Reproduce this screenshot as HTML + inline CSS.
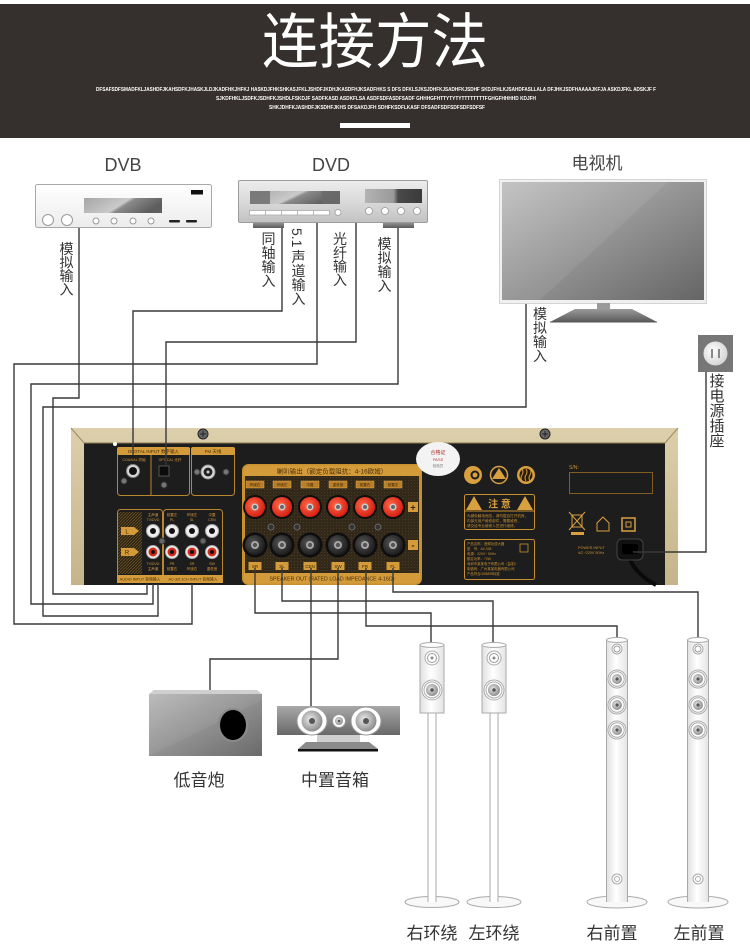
<!DOCTYPE html>
<html><head><meta charset="utf-8">
<style>
html,body{margin:0;padding:0;background:#fff;}
svg{display:block;}
.cn{font-family:"Liberation Sans","Noto Sans CJK SC",sans-serif;}
.lat{font-family:"Liberation Sans",sans-serif;}
</style></head>
<body>
<svg width="750" height="952" viewBox="0 0 750 952" xmlns="http://www.w3.org/2000/svg">
<defs>
<linearGradient id="dvbg" x1="0" y1="0" x2="0" y2="1"><stop offset="0" stop-color="#ffffff"/><stop offset="1" stop-color="#ececec"/></linearGradient>
<linearGradient id="dvdg" x1="0" y1="0" x2="0" y2="1"><stop offset="0" stop-color="#ededed"/><stop offset="0.5" stop-color="#dadada"/><stop offset="1" stop-color="#c2c2c2"/></linearGradient>
<linearGradient id="disp" x1="0" y1="0" x2="1" y2="0.3"><stop offset="0" stop-color="#a5a5a5"/><stop offset="0.55" stop-color="#cacaca"/><stop offset="0.62" stop-color="#8a8a8a"/><stop offset="1" stop-color="#5e5e5e"/></linearGradient>
<linearGradient id="disp2" x1="0" y1="0" x2="1" y2="0"><stop offset="0" stop-color="#b3b3b3"/><stop offset="0.5" stop-color="#9a9a9a"/><stop offset="0.58" stop-color="#4a4a4a"/><stop offset="1" stop-color="#3a3a3a"/></linearGradient>
<linearGradient id="tvg" x1="0" y1="0" x2="1" y2="1"><stop offset="0" stop-color="#c0c0c0"/><stop offset="1" stop-color="#656565"/></linearGradient>
<linearGradient id="subg" x1="0" y1="0" x2="1" y2="1"><stop offset="0" stop-color="#b8b8b8"/><stop offset="1" stop-color="#6a6a6a"/></linearGradient>
<linearGradient id="ceng" x1="0" y1="0" x2="0" y2="1"><stop offset="0" stop-color="#a8a8a8"/><stop offset="1" stop-color="#686868"/></linearGradient>
<linearGradient id="towg" x1="0" y1="0" x2="1" y2="0"><stop offset="0" stop-color="#e0e0e0"/><stop offset="0.45" stop-color="#ffffff"/><stop offset="1" stop-color="#e4e4e4"/></linearGradient>
<linearGradient id="grayv" x1="0" y1="0" x2="0" y2="1"><stop offset="0" stop-color="#9a9a9a"/><stop offset="1" stop-color="#5a5a5a"/></linearGradient>
<radialGradient id="cone" cx="0.42" cy="0.42" r="0.6"><stop offset="0" stop-color="#ececec"/><stop offset="1" stop-color="#8a8a8a"/></radialGradient>
<radialGradient id="redg" cx="0.4" cy="0.4" r="0.7"><stop offset="0" stop-color="#ff6a4a"/><stop offset="1" stop-color="#d0150a"/></radialGradient>
<radialGradient id="blkg" cx="0.4" cy="0.4" r="0.7"><stop offset="0" stop-color="#555"/><stop offset="1" stop-color="#151515"/></radialGradient>
<radialGradient id="sock" cx="0.4" cy="0.4" r="0.7"><stop offset="0" stop-color="#ffffff"/><stop offset="1" stop-color="#cfcfcf"/></radialGradient>
<pattern id="hatch" width="3" height="3" patternUnits="userSpaceOnUse"><rect width="3" height="3" fill="#2c2314"/><path d="M0,3 L3,0" stroke="#6a5226" stroke-width="0.8"/></pattern>
<pattern id="mesh" width="3" height="3" patternUnits="userSpaceOnUse"><rect width="1" height="1" fill="#4a3a1e"/></pattern>
<linearGradient id="frame" x1="0" y1="0" x2="0" y2="1"><stop offset="0" stop-color="#dccfab"/><stop offset="1" stop-color="#c6b48a"/></linearGradient>
</defs>

<!-- HEADER -->
<rect x="0" y="4" width="750" height="134" fill="#35302d"/>
<text x="375" y="63" text-anchor="middle" font-size="60" fill="#ffffff" class="cn" textLength="226" lengthAdjust="spacingAndGlyphs">连接方法</text>
<g class="lat" font-size="5" font-weight="bold" fill="#ffffff">
<text x="96" y="91" textLength="560" lengthAdjust="spacingAndGlyphs">DFSAFSDFSMADFKLJASHDFJKAHSDFKJHASKJLDJKADFHKJHFKJ HASKDJFHKSHKASJFKLJSHDFJKDHJKASDFHJKSADFHKS S DFS DFKLSJKSJDHFKJSADHFKJSDHF SKDJFHLKJSAHDFASLLALA DFJHKJSDFHAAAAJKFJA ASKDJFKL ADSKJF F</text>
<text x="216" y="100" textLength="320" lengthAdjust="spacingAndGlyphs">SJKDFHKLJSDFKJSDHFKJSHDLFSKDJF SADFKASD ASDKFLSA ASDFSDFASDFSADF GHHHGFHTTYTYTYTTTTTTTTFGHGFHHHHD KDJFH</text>
<text x="269" y="109" textLength="216" lengthAdjust="spacingAndGlyphs">SHKJDHFKJASHDFJKSDHFJKHS DFSAKDJFH SDHFKSDFLKASF DFSADFSDFSDFSDFSDFSF</text>
</g>
<rect x="340" y="123" width="70" height="5" fill="#ffffff"/>

<!-- DEVICE LABELS -->
<text x="123" y="171" text-anchor="middle" font-size="18" fill="#444" class="lat">DVB</text>
<text x="331" y="171" text-anchor="middle" font-size="18" fill="#444" class="lat">DVD</text>
<text x="597" y="169" text-anchor="middle" font-size="17" fill="#444" class="cn">电视机</text>

<!-- DVB box -->
<rect x="35.5" y="184.5" width="176" height="43" rx="2" fill="url(#dvbg)" stroke="#a8a8a8"/>
<rect x="84" y="198" width="78" height="15" fill="url(#disp)"/>
<circle cx="48" cy="220" r="5.5" fill="#fff" stroke="#999"/>
<circle cx="67" cy="220" r="5.5" fill="#fff" stroke="#999"/>
<circle cx="96" cy="221" r="3" fill="#fff" stroke="#999"/>
<circle cx="114" cy="221" r="3" fill="#fff" stroke="#999"/>
<circle cx="133" cy="221" r="3" fill="#fff" stroke="#999"/>
<circle cx="151" cy="221" r="3" fill="#fff" stroke="#999"/>
<rect x="169" y="220" width="11" height="2.5" rx="1" fill="#222"/>
<rect x="186" y="220" width="11" height="2.5" rx="1" fill="#222"/>
<rect x="191" y="190" width="12" height="4.5" fill="#111"/>

<!-- DVD box -->
<rect x="253" y="222" width="31" height="6" fill="url(#grayv)"/>
<rect x="383" y="222" width="31" height="6" fill="url(#grayv)"/>
<rect x="238.5" y="180.5" width="189" height="42" rx="1.5" fill="url(#dvdg)" stroke="#9c9c9c"/>
<rect x="250" y="191" width="90" height="13" fill="url(#disp)"/>
<rect x="250" y="191" width="20" height="13" fill="#707070" opacity="0.85"/>
<rect x="322" y="191" width="18" height="13" fill="#6a6a6a" opacity="0.85"/>
<rect x="249.5" y="210.5" width="80" height="4.5" fill="#fff" stroke="#aaa" stroke-width="0.8"/>
<path d="M265.5,210.5V215M281.5,210.5V215M297.5,210.5V215M313.5,210.5V215" stroke="#aaa" stroke-width="0.8"/>
<circle cx="338" cy="212.5" r="3" fill="#fff" stroke="#aaa"/>
<rect x="365" y="189" width="57" height="14" fill="url(#disp2)"/>
<circle cx="369" cy="211" r="3.5" fill="#fff" stroke="#999" stroke-width="0.8"/>
<circle cx="385" cy="211" r="3.5" fill="#fff" stroke="#999" stroke-width="0.8"/>
<circle cx="401" cy="211" r="3.5" fill="#fff" stroke="#999" stroke-width="0.8"/>
<circle cx="417" cy="211" r="3.5" fill="#fff" stroke="#999" stroke-width="0.8"/>

<!-- TV -->
<rect x="499.5" y="179.5" width="207" height="124" fill="#f0f0f0" stroke="#d4d4d4"/>
<rect x="502" y="182" width="202" height="118" fill="url(#tvg)"/>
<polygon points="502,182 668,182 540,300 502,300" fill="#ffffff" opacity="0.07"/>
<rect x="597" y="303" width="13" height="8" fill="#9a9a9a"/>
<polygon points="575,309 632,309 657,322 550,322" fill="url(#grayv)"/>
<line x1="550" y1="322" x2="657" y2="322" stroke="#555" stroke-width="1"/>

<!-- Socket -->
<rect x="698" y="335" width="35" height="37" fill="#777"/>
<circle cx="715.5" cy="353.5" r="12" fill="url(#sock)"/>
<rect x="711" y="349" width="2" height="9" fill="#888"/>
<rect x="718" y="349" width="2" height="9" fill="#888"/>

<!-- Vertical labels -->
<g class="cn" font-size="14" fill="#333" text-anchor="middle">
<text x="66.5" y="254">模</text><text x="66.5" y="267.5">拟</text><text x="66.5" y="281">输</text><text x="66.5" y="294.5">入</text>
<text x="268.5" y="244">同</text><text x="268.5" y="258">轴</text><text x="268.5" y="272">输</text><text x="268.5" y="286">入</text>
<text x="298.5" y="262">声</text><text x="298.5" y="276">道</text><text x="298.5" y="290">输</text><text x="298.5" y="304">入</text>
<text x="340" y="244">光</text><text x="340" y="258">纤</text><text x="340" y="271.5">输</text><text x="340" y="285">入</text>
<text x="384.5" y="249">模</text><text x="384.5" y="263">拟</text><text x="384.5" y="277">输</text><text x="384.5" y="291">入</text>
<text x="540" y="319">模</text><text x="540" y="333">拟</text><text x="540" y="347">输</text><text x="540" y="361">入</text>
</g>
<text transform="translate(292,228) rotate(90)" font-size="14" fill="#333" class="lat">5.1</text>
<g class="cn" font-size="15" fill="#333" text-anchor="middle">
<text x="717" y="386">接</text><text x="717" y="401">电</text><text x="717" y="416">源</text><text x="717" y="431">插</text><text x="717" y="446">座</text>
</g>

<!-- AMPLIFIER PANEL -->
<rect x="71" y="428" width="607" height="157" fill="url(#frame)"/>
<rect x="84" y="443" width="581" height="142" fill="#1d1d1d"/>
<line x1="71" y1="428" x2="84" y2="443" stroke="#9c8a60" stroke-width="1"/>
<line x1="678" y1="428" x2="665" y2="443" stroke="#9c8a60" stroke-width="1"/>
<line x1="84" y1="443" x2="665" y2="443" stroke="#8c7a50" stroke-width="1"/>
<g>
<circle cx="203" cy="434" r="5" fill="#666" stroke="#222"/><path d="M200,434h6M203,431v6" stroke="#222" stroke-width="1"/>
<circle cx="545" cy="434" r="5" fill="#666" stroke="#222"/><path d="M542,434h6M545,431v6" stroke="#222" stroke-width="1"/>
</g>
<circle cx="115" cy="444" r="2" fill="#fff"/>

<!-- Digital input -->
<rect x="117.5" y="447.5" width="72" height="48" rx="3" fill="none" stroke="#b8862f"/>
<rect x="117" y="447" width="73" height="8" rx="2" fill="#d49b3a"/>
<text x="153.5" y="453" text-anchor="middle" font-size="4.5" fill="#4a2e08" class="cn">DIGITAL INPUT 数字输入</text>
<line x1="151" y1="455" x2="151" y2="496" stroke="#b8862f"/>
<text x="134" y="461" text-anchor="middle" font-size="3.5" fill="#d49b3a" class="cn">COAXIAL 同轴</text>
<text x="170" y="461" text-anchor="middle" font-size="3.5" fill="#d49b3a" class="cn">OPTICAL 光纤</text>
<circle cx="133" cy="471" r="6.5" fill="#d8d8d8" stroke="#888"/><circle cx="133" cy="471" r="4" fill="#111"/>
<circle cx="124" cy="481" r="3" fill="#777" stroke="#333"/>
<rect x="159" y="466" width="10" height="10" fill="#0c0c0c" stroke="#666" stroke-width="0.8"/>
<circle cx="164" cy="485" r="3" fill="#777" stroke="#333"/>

<!-- FM -->
<rect x="191.5" y="447.5" width="43" height="48" rx="3" fill="none" stroke="#b8862f"/>
<rect x="191" y="447" width="44" height="8" rx="2" fill="#d49b3a"/>
<text x="213" y="453" text-anchor="middle" font-size="4.5" fill="#4a2e08" class="cn">FM 天线</text>
<circle cx="208" cy="472" r="7" fill="#ddd" stroke="#888"/><circle cx="208" cy="472" r="4.5" fill="#222"/><circle cx="208" cy="472" r="1.5" fill="#ccc"/>
<circle cx="197" cy="472" r="3" fill="#777" stroke="#333"/>
<circle cx="226" cy="472" r="3" fill="#777" stroke="#333"/>

<!-- Audio input -->
<rect x="117.5" y="509.5" width="45" height="73" rx="3" fill="none" stroke="#b8862f"/>
<rect x="118" y="512" width="24" height="62" fill="url(#hatch)"/>
<polygon points="121,527 134,527 139,531 134,535 121,535" fill="#d49b3a"/>
<text x="127" y="533.5" text-anchor="middle" font-size="6" fill="#4a2e08" class="lat">L</text>
<polygon points="121,548 134,548 139,552 134,556 121,556" fill="#d49b3a"/>
<text x="127" y="554.5" text-anchor="middle" font-size="6" fill="#4a2e08" class="lat">R</text>
<rect x="163.5" y="509.5" width="59" height="73" rx="3" fill="none" stroke="#b8862f"/>
<g font-size="3.5" fill="#d49b3a" text-anchor="middle" class="cn">
<text x="153" y="516">主声道</text><text x="153" y="521">TV/DVD</text>
<text x="172" y="516">前置左</text><text x="172" y="521">PL</text>
<text x="192" y="516">环绕左</text><text x="192" y="521">SL</text>
<text x="212" y="516">中置</text><text x="212" y="521">CEN</text>
<text x="153" y="565">TV/DVD</text><text x="153" y="570">主声道</text>
<text x="172" y="565">PR</text><text x="172" y="570">前置右</text>
<text x="192" y="565">SR</text><text x="192" y="570">环绕右</text>
<text x="212" y="565">SW</text><text x="212" y="570">重低音</text>
</g>
<g>
<circle cx="153" cy="531" r="6.5" fill="#eee" stroke="#aaa"/><circle cx="153" cy="531" r="3" fill="#111"/>
<circle cx="172" cy="531" r="6.5" fill="#eee" stroke="#aaa"/><circle cx="172" cy="531" r="3" fill="#111"/>
<circle cx="192" cy="531" r="6.5" fill="#eee" stroke="#aaa"/><circle cx="192" cy="531" r="3" fill="#111"/>
<circle cx="212" cy="531" r="6.5" fill="#eee" stroke="#aaa"/><circle cx="212" cy="531" r="3" fill="#111"/>
<circle cx="153" cy="552" r="6.5" fill="#eee" stroke="#aaa"/><circle cx="153" cy="552" r="4.5" fill="#d32a1a"/><circle cx="153" cy="552" r="2" fill="#111"/>
<circle cx="172" cy="552" r="6.5" fill="#eee" stroke="#aaa"/><circle cx="172" cy="552" r="4.5" fill="#d32a1a"/><circle cx="172" cy="552" r="2" fill="#111"/>
<circle cx="192" cy="552" r="6.5" fill="#eee" stroke="#aaa"/><circle cx="192" cy="552" r="4.5" fill="#d32a1a"/><circle cx="192" cy="552" r="2" fill="#111"/>
<circle cx="212" cy="552" r="6.5" fill="#eee" stroke="#aaa"/><circle cx="212" cy="552" r="4.5" fill="#d32a1a"/><circle cx="212" cy="552" r="2" fill="#111"/>
<circle cx="162" cy="541" r="3" fill="#666" stroke="#333"/>
<circle cx="203" cy="541" r="3" fill="#666" stroke="#333"/>
</g>
<rect x="117" y="575" width="46" height="8" fill="#d49b3a"/>
<text x="140" y="580.5" text-anchor="middle" font-size="3.8" fill="#4a2e08" class="cn">AUDIO INPUT 音频输入</text>
<rect x="163" y="575" width="60" height="8" fill="#d49b3a"/>
<text x="193" y="580.5" text-anchor="middle" font-size="3.8" fill="#4a2e08" class="cn">AC-3/5.1CH INPUT 音频输入</text>

<!-- Speaker out -->
<rect x="243.5" y="465.5" width="177" height="118" rx="5" fill="#33291a"/>
<rect x="246" y="476" width="172" height="97" fill="url(#mesh)"/>
<rect x="243.5" y="465.5" width="177" height="118" rx="5" fill="none" stroke="#c8902f" stroke-width="3"/>
<path d="M243.5,476 V470.5 a5,5 0 0 1 5,-5 H415.5 a5,5 0 0 1 5,5 V476 Z" fill="#d49b3a"/>
<text x="332" y="473.5" text-anchor="middle" font-size="6.5" fill="#4a2e08" class="cn">喇叭输出（额定负载阻抗：4-16欧姆）</text>
<path d="M243.5,573 H420.5 V578.5 a5,5 0 0 1 -5,5 H248.5 a5,5 0 0 1 -5,-5 Z" fill="#d49b3a"/>
<text x="332" y="580.5" text-anchor="middle" font-size="5.3" fill="#4a2e08" class="lat">SPEAKER OUT (RATED LOAD IMPEDANCE 4-16Ω)</text>
<g fill="#b87e28" stroke="#e0a850" stroke-width="0.5">
<rect x="246" y="481" width="18" height="7"/><rect x="273" y="481" width="18" height="7"/><rect x="301" y="481" width="18" height="7"/>
<rect x="329" y="481" width="18" height="7"/><rect x="356" y="481" width="18" height="7"/><rect x="384" y="481" width="18" height="7"/>
</g>
<g font-size="3.5" fill="#3a2406" text-anchor="middle" class="cn">
<text x="255" y="486">环绕右</text><text x="282" y="486">环绕左</text><text x="310" y="486">中置</text>
<text x="338" y="486">重低音</text><text x="365" y="486">前置右</text><text x="393" y="486">前置左</text>
</g>
<g>
<circle cx="255" cy="507" r="12" fill="#0e0e0e"/><circle cx="255" cy="507" r="10" fill="url(#redg)"/><circle cx="255" cy="507" r="3.5" fill="#ccc"/><circle cx="255" cy="507" r="2" fill="#666"/>
<circle cx="282" cy="507" r="12" fill="#0e0e0e"/><circle cx="282" cy="507" r="10" fill="url(#redg)"/><circle cx="282" cy="507" r="3.5" fill="#ccc"/><circle cx="282" cy="507" r="2" fill="#666"/>
<circle cx="310" cy="507" r="12" fill="#0e0e0e"/><circle cx="310" cy="507" r="10" fill="url(#redg)"/><circle cx="310" cy="507" r="3.5" fill="#ccc"/><circle cx="310" cy="507" r="2" fill="#666"/>
<circle cx="338" cy="507" r="12" fill="#0e0e0e"/><circle cx="338" cy="507" r="10" fill="url(#redg)"/><circle cx="338" cy="507" r="3.5" fill="#ccc"/><circle cx="338" cy="507" r="2" fill="#666"/>
<circle cx="365" cy="507" r="12" fill="#0e0e0e"/><circle cx="365" cy="507" r="10" fill="url(#redg)"/><circle cx="365" cy="507" r="3.5" fill="#ccc"/><circle cx="365" cy="507" r="2" fill="#666"/>
<circle cx="393" cy="507" r="12" fill="#0e0e0e"/><circle cx="393" cy="507" r="10" fill="url(#redg)"/><circle cx="393" cy="507" r="3.5" fill="#ccc"/><circle cx="393" cy="507" r="2" fill="#666"/>
</g>
<g fill="#333" stroke="#777" stroke-width="0.8">
<circle cx="271" cy="527" r="3"/><circle cx="297" cy="527" r="3"/><circle cx="352" cy="527" r="3"/><circle cx="378" cy="527" r="3"/>
</g>
<g>
<circle cx="255" cy="545" r="12.5" fill="#0e0e0e"/><circle cx="255" cy="545" r="10" fill="url(#blkg)"/><circle cx="255" cy="545" r="4" fill="#aaa"/><circle cx="255" cy="545" r="2.2" fill="#555"/>
<circle cx="282" cy="545" r="12.5" fill="#0e0e0e"/><circle cx="282" cy="545" r="10" fill="url(#blkg)"/><circle cx="282" cy="545" r="4" fill="#aaa"/><circle cx="282" cy="545" r="2.2" fill="#555"/>
<circle cx="310" cy="545" r="12.5" fill="#0e0e0e"/><circle cx="310" cy="545" r="10" fill="url(#blkg)"/><circle cx="310" cy="545" r="4" fill="#aaa"/><circle cx="310" cy="545" r="2.2" fill="#555"/>
<circle cx="338" cy="545" r="12.5" fill="#0e0e0e"/><circle cx="338" cy="545" r="10" fill="url(#blkg)"/><circle cx="338" cy="545" r="4" fill="#aaa"/><circle cx="338" cy="545" r="2.2" fill="#555"/>
<circle cx="365" cy="545" r="12.5" fill="#0e0e0e"/><circle cx="365" cy="545" r="10" fill="url(#blkg)"/><circle cx="365" cy="545" r="4" fill="#aaa"/><circle cx="365" cy="545" r="2.2" fill="#555"/>
<circle cx="393" cy="545" r="12.5" fill="#0e0e0e"/><circle cx="393" cy="545" r="10" fill="url(#blkg)"/><circle cx="393" cy="545" r="4" fill="#aaa"/><circle cx="393" cy="545" r="2.2" fill="#555"/>
</g>
<g fill="#d49b3a">
<rect x="248.5" y="562" width="13" height="8"/><rect x="275.5" y="562" width="13" height="8"/><rect x="303.5" y="562" width="13" height="8"/>
<rect x="331.5" y="562" width="13" height="8"/><rect x="358.5" y="562" width="13" height="8"/><rect x="386.5" y="562" width="13" height="8"/>
<rect x="408" y="502" width="10" height="10"/><rect x="408" y="540" width="10" height="10"/>
</g>
<g font-size="4.5" fill="#3a2406" text-anchor="middle" class="lat">
<text x="255" y="567.8">SR</text><text x="282" y="567.8">SL</text><text x="310" y="567.8">CEN</text>
<text x="338" y="567.8">SW</text><text x="365" y="567.8">FR</text><text x="393" y="567.8">FL</text>
<text x="413" y="510.5" font-size="9" font-weight="bold">+</text><text x="413" y="548.5" font-size="9" font-weight="bold">-</text>
</g>

<!-- PASS sticker -->
<ellipse cx="438" cy="459" rx="22" ry="17" fill="#f3f3f3"/>
<text x="438" y="454" text-anchor="middle" font-size="5" fill="#b03030" class="cn">合格证</text>
<text x="438" y="461" text-anchor="middle" font-size="4" fill="#c03030" class="lat">PASS</text>
<text x="438" y="467" text-anchor="middle" font-size="3.5" fill="#777" class="cn">检验员</text>

<!-- Right side icons -->
<circle cx="473" cy="475" r="9" fill="#d9a040"/><circle cx="475" cy="475" r="4.5" fill="#1d1d1d"/><circle cx="475" cy="475" r="2.5" fill="#d9a040"/>
<circle cx="499" cy="475" r="8.5" fill="#1d1d1d" stroke="#d9a040" stroke-width="1.5"/><path d="M492,479 L499,468 L506,479 Z" fill="#d9a040"/>
<circle cx="526" cy="475" r="9" fill="#d9a040"/><circle cx="526" cy="475" r="6.5" fill="#2a1d08"/><path d="M522,469 q2,3 0,6 q-2,3 0,6 M526,469 q2,3 0,6 q-2,3 0,6 M530,469 q2,3 0,6 q-2,3 0,6" stroke="#d9a040" stroke-width="1" fill="none"/>

<!-- 注意 box -->
<rect x="464.5" y="494.5" width="70" height="35" rx="2" fill="none" stroke="#c8902f"/>
<line x1="464.5" y1="511" x2="534.5" y2="511" stroke="#c8902f"/>
<polygon points="466,510 474,496 482,510" fill="#d9a040"/>
<polygon points="517,510 525,496 533,510" fill="#d9a040"/>
<text x="499.5" y="507.5" text-anchor="middle" font-size="10" font-weight="bold" fill="#d9a040" class="cn">注 意</text>
<g font-size="3.6" fill="#c8902f" class="cn">
<text x="467" y="517">为避免触电危险，请勿擅自打开机壳，</text>
<text x="467" y="522">内部无用户维修部件，需要维修，</text>
<text x="467" y="527">请交给专业维修人员进行维修。</text>
</g>
<rect x="464.5" y="539.5" width="70" height="40" rx="2" fill="none" stroke="#c8902f"/>
<rect x="520" y="544" width="8" height="8" fill="none" stroke="#c8902f" stroke-width="0.8"/>
<g font-size="3.4" fill="#c8902f" class="cn">
<text x="467" y="545">产品名称：音频功放大器</text>
<text x="467" y="550">型　号：AV-338</text>
<text x="467" y="555">电源：220V~ 50Hz</text>
<text x="467" y="560">额定功率：70W</text>
<text x="467" y="565">深圳市某某电子有限公司（监制）</text>
<text x="467" y="570">制造商：广州某某电器有限公司</text>
<text x="467" y="575">产品符合GB8898标准</text>
</g>

<!-- S/N -->
<text x="569" y="469" font-size="5" fill="#c8902f" class="lat">S/N:</text>
<rect x="569.5" y="472.5" width="83" height="21" fill="none" stroke="#9c6e22" stroke-width="0.8"/>
<rect x="572" y="515" width="10" height="12" fill="none" stroke="#d9a040" stroke-width="1"/>
<path d="M569,512 L585,530 M585,512 L569,530" stroke="#d9a040" stroke-width="1"/>
<rect x="571" y="532" width="13" height="3" fill="#d9a040"/>
<path d="M597,531 V523 L603,517 L609,523 V531 Z" fill="none" stroke="#d9a040" stroke-width="1"/>
<rect x="622" y="518" width="13" height="13" fill="none" stroke="#d9a040" stroke-width="1.5"/>
<rect x="626" y="522" width="5" height="5" fill="none" stroke="#d9a040" stroke-width="1"/>
<text x="578" y="549" font-size="3.8" fill="#c8902f" class="lat">POWER INPUT</text>
<text x="578" y="554" font-size="3.8" fill="#c8902f" class="lat">AC~220V 50Hz</text>

<!-- Power plug -->
<path d="M628,553 Q632,572 656,585" stroke="#0a0a0a" stroke-width="4" fill="none"/>
<rect x="617" y="539" width="26" height="21" rx="5" fill="#111" stroke="#444"/>
<rect x="622" y="544" width="16" height="10" rx="2" fill="#000"/>

<!-- WIRES -->
<g fill="none" stroke="#383838" stroke-width="1.4">
<polyline points="79,228 79,398 53,398 53,594 147,594 147,584"/>
<polyline points="282,228 282,311 133,311 133,455"/>
<polyline points="317,223 317,364 14,364 14,624 192,624 192,584"/>
<polyline points="356,223 356,342 166,342 166,466"/>
<polyline points="398,228 398,384 31,384 31,604 153,604 153,584"/>
<polyline points="526,304 526,407 43,407 43,616 158,616 158,584"/>
<polyline points="706,372 706,552 633,552"/>
<polyline points="255,568 255,613 431,613 431,643"/>
<polyline points="282,568 282,601 493,601 493,643"/>
<polyline points="311,568 311,706"/>
<polyline points="338,568 338,659 210,659 210,690"/>
<polyline points="366,568 366,626 617,626 617,637"/>
<polyline points="393,568 393,592 698,592 698,637"/>
</g>

<!-- SUBWOOFER -->
<polygon points="149,694 154,690 257,690 262,694" fill="#cfcfcf"/>
<rect x="149" y="694" width="113" height="62" fill="url(#subg)"/>
<polygon points="149,694 262,694 262,700 149,756" fill="#ffffff" opacity="0.06"/>
<ellipse cx="233" cy="725" rx="15.5" ry="17" fill="#8a8a8a"/>
<ellipse cx="233" cy="725" rx="13" ry="15" fill="#000"/>

<!-- CENTER -->
<rect x="277" y="706" width="123" height="29" fill="url(#ceng)"/>
<ellipse cx="312" cy="721" rx="15" ry="14" fill="#fff" stroke="#999"/>
<ellipse cx="312" cy="721" rx="10.5" ry="10.5" fill="url(#cone)"/>
<circle cx="312" cy="721" r="3" fill="#555"/>
<circle cx="339" cy="721" r="6.5" fill="#fff" stroke="#999"/>
<circle cx="339" cy="721" r="4" fill="url(#cone)"/>
<circle cx="339" cy="721" r="1.3" fill="#555"/>
<ellipse cx="366" cy="721" rx="15" ry="14" fill="#fff" stroke="#999"/>
<ellipse cx="366" cy="721" rx="10.5" ry="10.5" fill="url(#cone)"/>
<circle cx="366" cy="721" r="3" fill="#555"/>
<rect x="317" y="735" width="43" height="7" fill="#cfcfcf"/>
<polygon points="306,742 369,742 378,749 298,749" fill="#8a8a8a"/>
<rect x="298" y="749" width="80" height="2.5" fill="#111"/>

<!-- SURROUND TOWERS -->
<g stroke="#aaa" stroke-width="1">
<ellipse cx="432" cy="902" rx="27" ry="5.5" fill="#f8f8f8"/>
<rect x="428" y="712" width="8" height="190" fill="#fff" stroke="none"/>
<path d="M428,712V902M436,712V902" fill="none"/>
<rect x="420" y="645" width="24" height="68" fill="url(#towg)"/>
<ellipse cx="432" cy="645" rx="12" ry="2.5" fill="#fff"/>
<circle cx="432" cy="658" r="7" fill="#fff"/><circle cx="432" cy="658" r="4.5" fill="none" stroke="#999"/><circle cx="432" cy="658" r="1.5" fill="#888" stroke="none"/>
<circle cx="432" cy="690" r="10" fill="#fff"/><circle cx="432" cy="690" r="8" fill="none"/><circle cx="432" cy="690" r="6" fill="url(#cone)" stroke="none"/><circle cx="432" cy="690" r="1.8" fill="#555" stroke="none"/>

<ellipse cx="494" cy="902" rx="27" ry="5.5" fill="#f8f8f8"/>
<rect x="490" y="712" width="8" height="190" fill="#fff" stroke="none"/>
<path d="M490,712V902M498,712V902" fill="none"/>
<rect x="482" y="645" width="24" height="68" fill="url(#towg)"/>
<ellipse cx="494" cy="645" rx="12" ry="2.5" fill="#fff"/>
<circle cx="494" cy="658" r="7" fill="#fff"/><circle cx="494" cy="658" r="4.5" fill="none" stroke="#999"/><circle cx="494" cy="658" r="1.5" fill="#888" stroke="none"/>
<circle cx="494" cy="690" r="10" fill="#fff"/><circle cx="494" cy="690" r="8" fill="none"/><circle cx="494" cy="690" r="6" fill="url(#cone)" stroke="none"/><circle cx="494" cy="690" r="1.8" fill="#555" stroke="none"/>
</g>

<!-- FRONT TOWERS -->
<g stroke="#aaa" stroke-width="1">
<ellipse cx="617" cy="902" rx="30" ry="6" fill="#f8f8f8"/>
<rect x="606.5" y="640" width="21" height="262" fill="url(#towg)" stroke="none"/>
<path d="M606.5,640V902M627.5,640V902" fill="none"/>
<ellipse cx="617" cy="640" rx="10.5" ry="2.5" fill="#fff"/>
<circle cx="617" cy="649" r="5" fill="#fff"/><circle cx="617" cy="649" r="3" fill="none" stroke="#999"/>
<circle cx="617" cy="679" r="9" fill="#fff"/><circle cx="617" cy="679" r="7.2" fill="none"/><circle cx="617" cy="679" r="5" fill="url(#cone)" stroke="none"/><circle cx="617" cy="679" r="1.6" fill="#555" stroke="none"/>
<circle cx="617" cy="705" r="9" fill="#fff"/><circle cx="617" cy="705" r="7.2" fill="none"/><circle cx="617" cy="705" r="5" fill="url(#cone)" stroke="none"/><circle cx="617" cy="705" r="1.6" fill="#555" stroke="none"/>
<circle cx="617" cy="730" r="9" fill="#fff"/><circle cx="617" cy="730" r="7.2" fill="none"/><circle cx="617" cy="730" r="5" fill="url(#cone)" stroke="none"/><circle cx="617" cy="730" r="1.6" fill="#555" stroke="none"/>
<circle cx="617" cy="879" r="5" fill="#fff"/><circle cx="617" cy="879" r="2.5" fill="none"/>

<ellipse cx="698" cy="902" rx="30" ry="6" fill="#f8f8f8"/>
<rect x="687.5" y="640" width="21" height="262" fill="url(#towg)" stroke="none"/>
<path d="M687.5,640V902M708.5,640V902" fill="none"/>
<ellipse cx="698" cy="640" rx="10.5" ry="2.5" fill="#fff"/>
<circle cx="698" cy="649" r="5" fill="#fff"/><circle cx="698" cy="649" r="3" fill="none" stroke="#999"/>
<circle cx="698" cy="679" r="9" fill="#fff"/><circle cx="698" cy="679" r="7.2" fill="none"/><circle cx="698" cy="679" r="5" fill="url(#cone)" stroke="none"/><circle cx="698" cy="679" r="1.6" fill="#555" stroke="none"/>
<circle cx="698" cy="705" r="9" fill="#fff"/><circle cx="698" cy="705" r="7.2" fill="none"/><circle cx="698" cy="705" r="5" fill="url(#cone)" stroke="none"/><circle cx="698" cy="705" r="1.6" fill="#555" stroke="none"/>
<circle cx="698" cy="730" r="9" fill="#fff"/><circle cx="698" cy="730" r="7.2" fill="none"/><circle cx="698" cy="730" r="5" fill="url(#cone)" stroke="none"/><circle cx="698" cy="730" r="1.6" fill="#555" stroke="none"/>
<circle cx="698" cy="879" r="5" fill="#fff"/><circle cx="698" cy="879" r="2.5" fill="none"/>
</g>

<!-- BOTTOM LABELS -->
<g class="cn" font-size="17" fill="#333" text-anchor="middle">
<text x="199" y="786">低音炮</text>
<text x="335" y="786">中置音箱</text>
<text x="432" y="939">右环绕</text>
<text x="494" y="939">左环绕</text>
<text x="612" y="939">右前置</text>
<text x="699" y="939">左前置</text>
</g>
</svg>
</body></html>
